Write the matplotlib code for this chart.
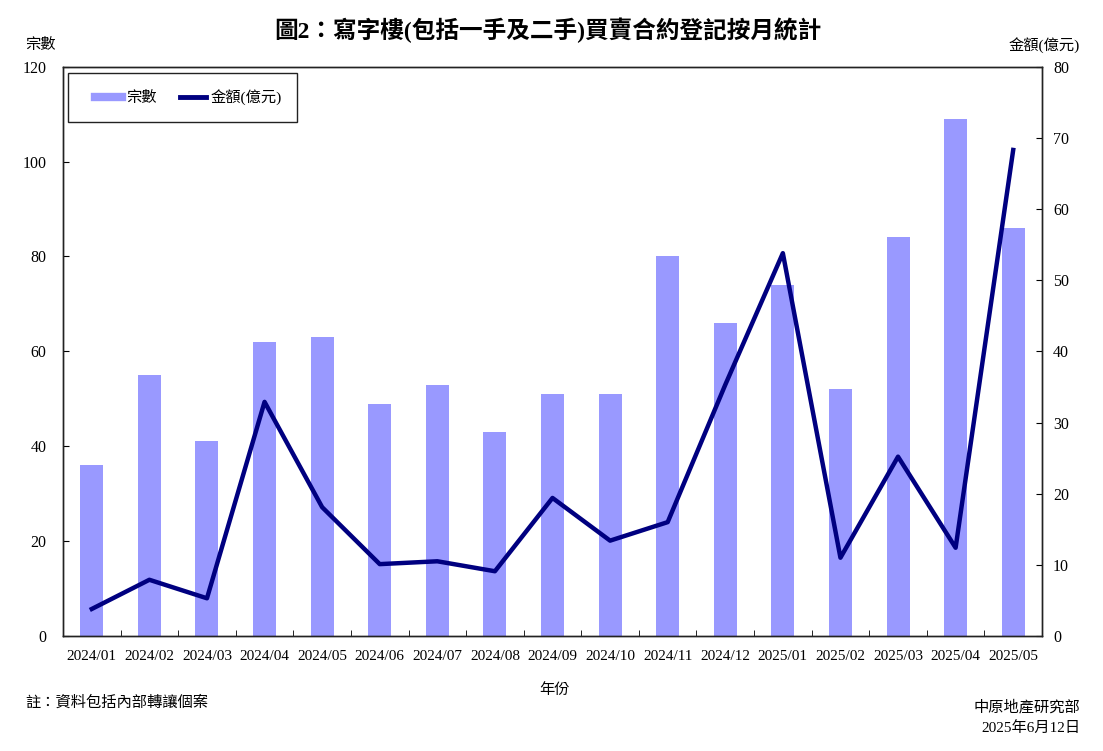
import matplotlib
matplotlib.use("Agg")
import matplotlib.pyplot as plt
from matplotlib.lines import Line2D
from matplotlib.patches import Rectangle
import numpy as np

plt.rcParams['font.family'] = ['Liberation Serif', 'Noto Sans CJK TC', 'DejaVu Sans']

months = ['2024/01', '2024/02', '2024/03', '2024/04', '2024/05', '2024/06',
          '2024/07', '2024/08', '2024/09', '2024/10', '2024/11', '2024/12',
          '2025/01', '2025/02', '2025/03', '2025/04', '2025/05']
deals = [36, 55, 41, 62, 63, 49, 53, 43, 51, 51, 80, 66, 74, 52, 84, 109, 86]
amount = [3.8, 7.9, 5.3, 32.9, 18.1, 10.1, 10.5, 9.1, 19.4, 13.4, 16.0, 35.3,
          53.8, 11.0, 25.2, 12.4, 68.3]

bar_color = '#9999FF'
line_color = '#000080'

fig = plt.figure(figsize=(11.03, 7.51), dpi=100)
ax = fig.add_axes([63 / 1103, 1 - 636 / 751, 979 / 1103, 569.3 / 751])
ax2 = ax.twinx()

x = np.arange(len(months))
ax.bar(x, deals, width=0.4, color=bar_color, zorder=2)
ax2.plot(x, amount, color=line_color, lw=3.2, zorder=3)

ax.set_xlim(-0.5, len(months) - 0.5)
ax.set_ylim(0, 120)
ax2.set_ylim(0, 80)
ax.set_yticks(range(0, 121, 20))
ax2.set_yticks(range(0, 81, 10))

ax.set_xticks(x)
ax.set_xticklabels(months, fontsize=11)
ax.set_xticks(np.arange(-0.5, len(months), 1.0), minor=True)
ax.tick_params(axis='x', which='major', length=0, pad=10)
ax.tick_params(axis='x', which='minor', direction='in', length=4)
ax.tick_params(axis='y', direction='in', length=4, labelsize=11.5, pad=12)
ax2.tick_params(axis='y', direction='in', length=4, labelsize=11.5, pad=8)

for a in (ax, ax2):
    for s in a.spines.values():
        s.set_linewidth(1.0)
        s.set_color('#222222')

# legend: frameless, with a hand-placed box around it
handles = [Line2D([0], [0], color=bar_color, lw=6),
           Line2D([0], [0], color=line_color, lw=3.5)]
leg = ax2.legend(handles, ['宗數', '金額(億元)'], ncol=2, loc='center left',
                 bbox_to_anchor=((95 - 63) / 979, 1 - (97.5 - 66.7) / 569.3),
                 fontsize=11, frameon=False, borderpad=0,
                 handlelength=1.75, handletextpad=0.3, columnspacing=1.5,
                 borderaxespad=0)
box = Rectangle(((68 - 63) / 979, 1 - (122.3 - 66.7) / 569.3),
                229 / 979, 49.6 / 569.3, transform=ax.transAxes,
                fill=True, facecolor='white', edgecolor='#222222', lw=1.0, zorder=4)
ax2.add_patch(box)
leg.set_zorder(5)

fig.text(0.497, 1 - 30 / 751, '圖2：寫字樓(包括一手及二手)買賣合約登記按月統計',
         ha='center', va='center', fontsize=17, fontweight='bold')
fig.text(25 / 1103, 1 - 45 / 751, '宗數', ha='left', va='center', fontsize=11)
fig.text(1080 / 1103, 1 - 45 / 751, '金額(億元)', ha='right', va='center', fontsize=11)
fig.text(555 / 1103, 1 - 690 / 751, '年份', ha='center', va='center', fontsize=11)
fig.text(25 / 1103, 1 - 703 / 751, '註：資料包括內部轉讓個案', ha='left', va='center', fontsize=11)
fig.text(1080 / 1103, 1 - 707 / 751, '中原地產研究部', ha='right', va='center', fontsize=11)
fig.text(1080 / 1103, 1 - 728 / 751, '2025年6月12日', ha='right', va='center', fontsize=11)

fig.savefig('out.png', dpi=100)
